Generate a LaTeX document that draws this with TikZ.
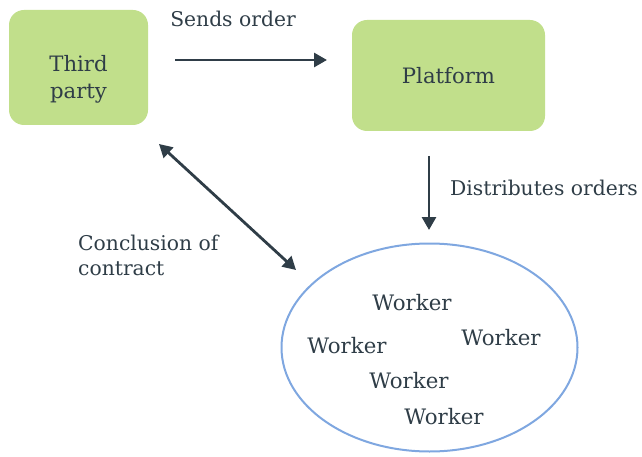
\documentclass[tikz,border=0pt]{standalone}
\usepackage{fontspec}
\setmainfont{DejaVu Serif}
\usetikzlibrary{arrows.meta,shapes.geometric}
\definecolor{boxgreen}{HTML}{C1DF8B}
\definecolor{txt}{HTML}{2F3D47}
\definecolor{ellblue}{HTML}{7FA7E0}
\tikzset{
  gbox/.style={fill=boxgreen, draw=none, rounded corners=15pt, text=txt, align=center, inner sep=0pt},
  lbl/.style={text=txt, inner sep=0pt, align=left, font=\fontsize{20.3}{25}\selectfont},
  conn/.style={draw=txt, line width=2.8pt, -{Triangle[length=13pt,width=14pt]}},
  wk/.style={text=txt, inner sep=0pt, font=\fontsize{21.3}{25}\selectfont}
}
\begin{document}
\begin{tikzpicture}[x=1pt,y=-1pt]
\useasboundingbox (0,0) rectangle (642,457);
\node[gbox, minimum width=139pt, minimum height=115pt] (tp) at (78.5,67.5) {};
\node[text=txt, align=center, inner sep=0pt, font=\fontsize{21.2}{27}\selectfont] (tpt) at (78.5,79) {Third\\party};
\node[gbox, minimum width=193pt, minimum height=111pt, font=\fontsize{21.2}{25}\selectfont] (pf) at (448.5,75.5) {Platform};
\node[draw=ellblue, line width=2pt, ellipse, minimum width=296pt, minimum height=208pt, inner sep=0pt] (wk) at (429.5,347.5) {};
\coordinate (a1s) at (175,60);
\coordinate (a1e) at (327,60);
\draw[conn] (a1s) -- (a1e);
\node[lbl] (so) at (233,19) {Sends order};
\coordinate (a2s) at (429,156);
\coordinate (a2e) at (429,230);
\draw[conn] (a2s) -- (a2e);
\node[lbl, anchor=west] (do) at (450,188) {Distributes orders};
\coordinate (a3s) at (159,144);
\coordinate (a3e) at (296,270);
\draw[conn, {Triangle[length=13pt,width=14pt]}-{Triangle[length=13pt,width=14pt]}] (a3s) -- (a3e);
\node[lbl, anchor=west] (cc) at (78,255) {Conclusion of\\contract};
\node[wk] (w1) at (412,303) {Worker};
\node[wk] (w2) at (501,338) {Worker};
\node[wk] (w3) at (347,346) {Worker};
\node[wk] (w4) at (409,381) {Worker};
\node[wk] (w5) at (444,417) {Worker};
\end{tikzpicture}
\end{document}
